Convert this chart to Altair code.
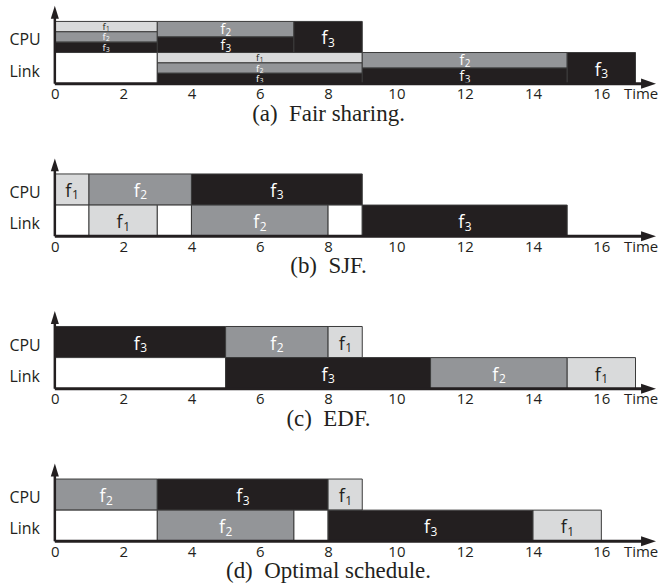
import altair as alt
import pandas as pd

# ---------------- data ----------------
PANELS = ["a", "b", "c", "d"]
CAPTIONS = ["(a)\u00a0 Fair sharing.", "(b)\u00a0 SJF.", "(c)\u00a0 EDF.", "(d)\u00a0 Optimal schedule."]
TICK_VALUES = [0, 2, 4, 6, 8, 10, 12, 14, 16]
TIME_LABEL_POS = 17.15
X_MAX = 17.6

# (a) Fair sharing
a_row = ["CPU", "CPU", "CPU", "CPU", "CPU", "CPU", "Link", "Link", "Link", "Link", "Link", "Link", "Link"]
a_start = [0, 0, 0, 3, 3, 7, 0, 3, 3, 3, 9, 9, 15]
a_end = [3, 3, 3, 7, 7, 9, 3, 9, 9, 9, 15, 15, 17]
a_flow = [1, 2, 3, 2, 3, 3, 0, 1, 2, 3, 2, 3, 3]
a_band = ["top3", "mid3", "bot3", "top2", "bot2", "full", "full", "top3", "mid3", "bot3", "top2", "bot2", "full"]

# (b) SJF
b_row = ["CPU", "CPU", "CPU", "Link", "Link", "Link", "Link", "Link", "Link"]
b_start = [0, 1, 4, 0, 1, 3, 4, 8, 9]
b_end = [1, 4, 9, 1, 3, 4, 8, 9, 15]
b_flow = [1, 2, 3, 0, 1, 0, 2, 0, 3]
b_band = ["full"] * 9

# (c) EDF
c_row = ["CPU", "CPU", "CPU", "Link", "Link", "Link", "Link"]
c_start = [0, 5, 8, 0, 5, 11, 15]
c_end = [5, 8, 9, 5, 11, 15, 17]
c_flow = [3, 2, 1, 0, 3, 2, 1]
c_band = ["full"] * 7

# (d) Optimal schedule
d_row = ["CPU", "CPU", "CPU", "Link", "Link", "Link", "Link", "Link"]
d_start = [0, 3, 8, 0, 3, 7, 8, 14]
d_end = [3, 8, 9, 3, 7, 8, 14, 16]
d_flow = [2, 3, 1, 0, 2, 0, 3, 1]
d_band = ["full"] * 8

# ---------------- styling ----------------
ROW_BASE = {"CPU": 1.0, "Link": 0.0}
BAND = {"full": (0, 1), "top2": (0.5, 1), "bot2": (0, 0.5),
        "top3": (2 / 3, 1), "mid3": (1 / 3, 2 / 3), "bot3": (0, 1 / 3)}
BAND_GROUP = {"full": "full", "top2": "half", "bot2": "half",
              "top3": "third", "mid3": "third", "bot3": "third"}
FILL_DOMAIN = [0, 1, 2, 3]
FILL_RANGE = ["#ffffff", "#d9dadb", "#939598", "#231f20"]
TEXT_DOMAIN = [1, 2, 3]
TEXT_RANGE = ["#231f20", "#ffffff", "#ffffff"]
W, H = 603, 78
SANS = "Open Sans"
SERIF = "Liberation Serif"
DARK = "#231f20"
# label styles per group: (f size, f dy, digit size, digit dy)
LABEL_STYLE = {"full": (18, 7.5, 12, 10), "half": (14, 5, 10, 7), "third": (9.5, 3.5, 6.5, 4.5)}

sets = {
    "a": (a_row, a_start, a_end, a_flow, a_band),
    "b": (b_row, b_start, b_end, b_flow, b_band),
    "c": (c_row, c_start, c_end, c_flow, c_band),
    "d": (d_row, d_start, d_end, d_flow, d_band),
}


def panel_frame(key):
    rows, starts, ends, flows, bands = sets[key]
    recs = []
    for r, s, e, f, b in zip(rows, starts, ends, flows, bands):
        lo, hi = BAND[b]
        recs.append({
            "row": r, "start": s, "end": e, "flow": f,
            "y0": ROW_BASE[r] + lo, "y1": ROW_BASE[r] + hi,
            "xm": (s + e) / 2, "ym": ROW_BASE[r] + (lo + hi) / 2,
            "group": BAND_GROUP[b], "digit": str(f),
        })
    return pd.DataFrame(recs)


one = pd.DataFrame({"k": [0]})

xscale = alt.Scale(domain=[0, X_MAX], nice=False, zero=False)
yscale = alt.Scale(domain=[0, 2.5], nice=False, zero=False)

x_axis = alt.Axis(
    values=TICK_VALUES + [TIME_LABEL_POS],
    labelExpr="datum.value > 16.5 ? 'Time' : datum.label",
    title=None, grid=False, domain=False, ticks=False, tickSize=0,
    labelFont=SANS, labelFontSize=15, labelColor=DARK, labelPadding=3,
    labelOverlap=False, labelFlush=False, labelBound=False,
)
y_axis = alt.Axis(
    values=[0.5, 1.5],
    labelExpr="datum.value > 1 ? 'CPU' : 'Link'",
    title=None, grid=False, domain=False, ticks=False, tickSize=0,
    labelFont=SANS, labelFontSize=16, labelColor=DARK, labelPadding=46,
    labelAlign="left", labelOffset=3,
)


def make_panel(key, caption):
    df = panel_frame(key)
    base = alt.Chart(df)
    rect = base.mark_rect(stroke="#3a3a3a", strokeWidth=1).encode(
        x=alt.X("start:Q", scale=xscale, axis=x_axis),
        x2="end:Q",
        y=alt.Y("y0:Q", scale=yscale, axis=y_axis),
        y2="y1:Q",
        fill=alt.Fill("flow:N", scale=alt.Scale(domain=FILL_DOMAIN, range=FILL_RANGE), legend=None),
    )
    layers = [rect]
    for g, (fs, fdy, ds, ddy) in LABEL_STYLE.items():
        sub = base.transform_filter(f"datum.flow > 0 && datum.group == '{g}'")
        color = alt.Color("flow:N", scale=alt.Scale(domain=TEXT_DOMAIN, range=TEXT_RANGE), legend=None)
        layers.append(sub.mark_text(font=SANS, fontSize=fs, align="right", baseline="alphabetic",
                                    dx=-0.5, dy=fdy).encode(
            x="xm:Q", y="ym:Q", text=alt.value("f"), color=color))
        layers.append(sub.mark_text(font=SANS, fontSize=ds, align="left", baseline="alphabetic",
                                    dx=0, dy=ddy).encode(
            x="xm:Q", y="ym:Q", text="digit:N", color=color))
    # axes drawn as arrows
    layers.append(alt.Chart(one).mark_rule(color=DARK, strokeWidth=2.5).encode(
        x=alt.value(0), y=alt.value(10), y2=alt.value(H)))
    layers.append(alt.Chart(one).mark_point(shape="M 0 -1 L 0.62 1 L -0.62 1 Z", filled=True,
                                            size=169, color=DARK, opacity=1).encode(
        x=alt.value(0), y=alt.value(6.5)))
    layers.append(alt.Chart(one).mark_rule(color=DARK, strokeWidth=3).encode(
        x=alt.value(0), x2=alt.value(W - 12), y=alt.value(H)))
    layers.append(alt.Chart(one).mark_point(shape="M -1 -0.67 L 1 0 L -1 0.67 Z", filled=True,
                                            size=225, color=DARK, opacity=1).encode(
        x=alt.value(W - 7.5), y=alt.value(H)))
    return alt.layer(*layers).properties(
        width=W, height=H,
        title=alt.TitleParams(text=caption, orient="bottom", anchor="middle", font=SERIF,
                              fontSize=23, fontWeight="normal", color=DARK, offset=1, dx=-27),
    )


chart = alt.vconcat(*[make_panel(k, c) for k, c in zip(PANELS, CAPTIONS)], spacing=33).properties(
    padding={"left": 9, "top": 5, "right": 0, "bottom": 0},
    background="white",
).configure_view(stroke=None)

chart.save("out.html", embed_options={"renderer": "svg", "actions": False})
